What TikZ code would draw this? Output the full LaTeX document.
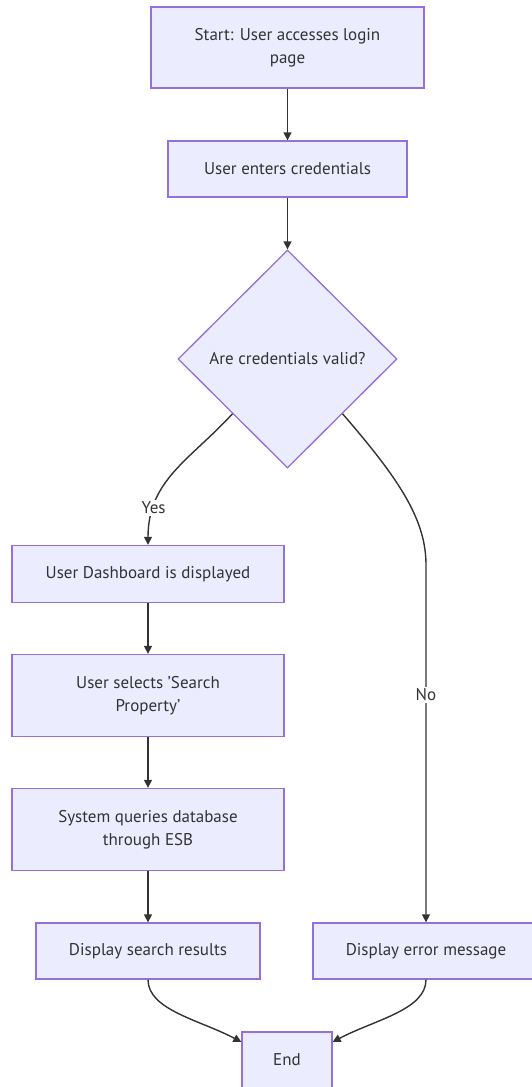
\documentclass[tikz,border=0pt]{standalone}
\usepackage{fontspec}
\setmainfont{PT Sans}
\usetikzlibrary{arrows.meta,shapes.geometric}

\definecolor{boxfill}{HTML}{ECECFF}
\definecolor{boxline}{HTML}{9370DB}
\definecolor{ink}{HTML}{333333}

\begin{document}
\begin{tikzpicture}[x=1pt,y=-1pt,>={Triangle[length=8pt,width=8pt]},
    font=\fontsize{17}{23}\selectfont,text=ink,
    box/.style={draw=boxline,fill=boxfill,line width=1.3pt,align=center,
        inner sep=0pt,minimum height=57pt},
    decision/.style={diamond,draw=boxline,fill=boxfill,line width=1.3pt,
        inner sep=0pt,minimum width=219pt,minimum height=218pt},
    flow/.style={->,draw=ink,line width=1.4pt},
    tag/.style={fill=white,inner sep=2pt}]

    \useasboundingbox (0,0) rectangle (532,1087);

    % Login part
    \node [box,minimum width=273pt,minimum height=81pt] (start) at (287.5,47.5)
        {Start: User accesses login\\page};
    \node [box,minimum width=239pt,minimum height=56pt] (cred) at (287.5,169) {User enters credentials};
    \node [decision] (valid) at (287.5,359) {Are credentials valid?};

    % Yes branch
    \node [box,minimum width=272pt] (dash) at (148,574) {User Dashboard is displayed};
    \node [box,minimum width=272pt,minimum height=82pt] (search) at (148,695.5)
        {User selects 'Search\\Property'};
    \node [box,minimum width=272pt,minimum height=82pt] (query) at (148,829.5)
        {System queries database\\through ESB};
    \node [box,minimum width=224pt,minimum height=56pt] (results) at (148,951) {Display search results};

    % No branch
    \node [box,minimum width=226pt,minimum height=56pt] (error) at (426,951) {Display error message};
    \coordinate (bend) at (426,565);

    % End
    \node [box,minimum width=90pt,minimum height=56pt] (end) at (287,1060) {End};

    % Connectors
    \draw [flow] (start) -- (cred);
    \draw [flow] (cred) -- (valid);
    \draw [flow] (valid.south west) .. controls (190,460) and (148,480) .. (dash.north)
        node [tag,pos=0.78] {Yes};
    \draw [flow] (valid.south east) .. controls (400,480) and (426,520) .. (bend)
        -- (error.north) node [tag,pos=0.363] {No};
    \draw [flow] (dash) -- (search);
    \draw [flow] (search) -- (query);
    \draw [flow] (query) -- (results);
    \draw [flow] (results.south) .. controls (148,1010) and (200,1020) .. (end.west |- 0,1042);
    \draw [flow] (error.south) .. controls (426,1010) and (374,1020) .. (end.east |- 0,1042);

\end{tikzpicture}
\end{document}
